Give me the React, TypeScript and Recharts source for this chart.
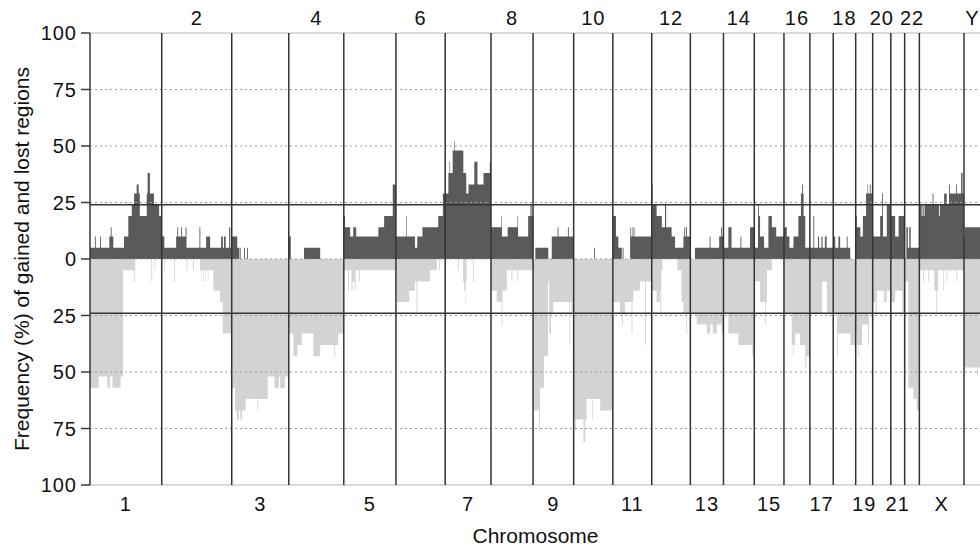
import { Area, ComposedChart, ReferenceLine, XAxis, YAxis } from 'recharts';

const FONT = '"Liberation Sans", Arial, Helvetica, sans-serif';

const chromNames = ['1', '2', '3', '4', '5', '6', '7', '8', '9', '10', '11', '12', '13', '14', '15', '16', '17', '18', '19', '20', '21', '22', 'X', 'Y'];

// chromosome lengths (Mb)
const chromLengthMb = [249, 243, 198, 191, 181, 171, 159, 146, 141, 136, 135, 134, 115, 107, 103, 90, 81, 78, 59, 63, 48, 51, 155, 59];

// per chromosome: [start (Mb from chromosome start), frequency %], each step holds until the next one
const gainSegments: number[][][] = [
  [[0, 5], [17, 10], [20, 5], [35, 10], [38, 5], [67, 10], [72, 14], [75, 10], [81, 5], [118, 10], [133, 19], [145, 24], [153, 29], [162, 33], [169, 29], [173, 19], [197, 29], [200, 38], [208, 29], [222, 24], [240, 19]],
  [[0, 10], [9, 5], [50, 10], [54, 14], [57, 10], [67, 14], [70, 10], [83, 14], [86, 5], [131, 14], [134, 5], [154, 10], [168, 5], [206, 10], [212, 5], [216, 10], [222, 5], [234, 14], [238, 5]],
  [[0, 10], [19, 5], [26, 0], [28, 5], [31, 0], [43, 5], [46, 0], [53, 5], [56, 0]],
  [[0, 10], [7, 0], [53, 5], [109, 0]],
  [[0, 19], [4, 14], [22, 10], [33, 14], [43, 10], [120, 14], [140, 19], [170, 33]],
  [[0, 10], [35, 19], [37, 10], [66, 5], [74, 10], [92, 14], [147, 19], [163, 29]],
  [[0, 29], [11, 38], [15, 43], [17, 38], [26, 48], [32, 52], [34, 48], [63, 38], [73, 29], [81, 33], [101, 43], [112, 33], [133, 38], [155, 43]],
  [[0, 14], [36, 19], [38, 10], [58, 14], [92, 19], [94, 10], [129, 19], [137, 24], [141, 19]],
  [[0, 0], [8, 5], [53, 0], [65, 10], [85, 14], [88, 10], [121, 14], [124, 10]],
  [[0, 0], [71, 5], [74, 0]],
  [[0, 19], [11, 10], [19, 5], [31, 0], [34, 5], [37, 0], [60, 10], [61, 14], [63, 10], [66, 14], [68, 10], [72, 14], [75, 10]],
  [[0, 33], [3, 24], [17, 19], [35, 14], [46, 24], [50, 14], [69, 10], [81, 5], [110, 10], [113, 14], [116, 10], [119, 14], [122, 10]],
  [[0, 0], [16, 5], [67, 10], [70, 5], [100, 10], [107, 14], [110, 10]],
  [[0, 5], [17, 14], [28, 5], [59, 10], [62, 5], [92, 14]],
  [[0, 5], [13, 24], [16, 19], [20, 10], [34, 5], [49, 19], [61, 14], [76, 10]],
  [[0, 14], [10, 10], [19, 5], [33, 10], [50, 19], [59, 29], [63, 33], [66, 29], [68, 19], [74, 5]],
  [[0, 5], [12, 19], [15, 5], [28, 10], [32, 5], [40, 10], [44, 5], [52, 10], [58, 5]],
  [[0, 10], [7, 5], [18, 10], [24, 5], [47, 10], [50, 5], [59, 0]],
  [[0, 19], [4, 14], [16, 10], [25, 19], [36, 29], [41, 33], [43, 29], [49, 33], [52, 29]],
  [[0, 10], [26, 19], [33, 29], [36, 10], [49, 24]],
  [[0, 19], [15, 10], [27, 19]],
  [[0, 0], [6, 14], [11, 5], [16, 14], [21, 5]],
  [[0, 24], [8, 19], [11, 24], [15, 19], [18, 24], [46, 29], [49, 24], [68, 19], [71, 24], [86, 29], [95, 24], [103, 33], [106, 29], [128, 33], [131, 29], [145, 38], [150, 29]],
  [[0, 10], [3, 14]],
];

const lossSegments: number[][][] = [
  [[0, 57], [30, 52], [60, 57], [69, 52], [78, 57], [106, 52], [115, 5], [154, 10], [157, 0], [213, 10], [216, 0], [224, 5], [227, 0]],
  [[0, 0], [9, 5], [11, 0], [43, 10], [46, 0], [86, 5], [89, 0], [109, 5], [112, 0], [133, 5], [138, 10], [140, 5], [145, 10], [147, 5], [152, 10], [154, 5], [160, 10], [162, 5], [179, 14], [202, 19], [212, 33]],
  [[0, 57], [11, 67], [17, 71], [25, 67], [30, 71], [36, 67], [48, 62], [89, 67], [92, 62], [125, 52], [148, 57], [164, 52], [168, 57], [185, 52]],
  [[0, 33], [16, 43], [30, 38], [45, 33], [85, 43], [109, 38], [158, 43], [161, 38], [172, 33]],
  [[0, 5], [15, 14], [18, 5], [27, 14], [30, 10], [38, 14], [41, 5], [53, 10], [56, 5]],
  [[0, 19], [46, 14], [66, 10], [71, 24], [74, 10], [118, 5], [142, 0], [150, 5], [153, 0]],
  [[0, 0], [44, 5], [47, 0], [62, 10], [66, 14], [69, 19], [71, 10], [74, 0], [96, 10], [99, 0]],
  [[0, 14], [20, 19], [37, 29], [40, 14], [55, 5], [71, 10], [74, 5], [92, 10], [95, 5]],
  [[0, 67], [21, 76], [24, 57], [38, 43], [52, 10], [56, 33], [62, 24], [70, 19], [126, 38], [129, 19], [134, 24]],
  [[0, 71], [5, 76], [8, 71], [34, 81], [40, 71], [45, 62], [63, 71], [66, 62], [92, 67]],
  [[0, 19], [25, 24], [32, 29], [35, 24], [42, 19], [65, 33], [68, 19], [71, 14], [94, 10], [112, 38], [115, 10]],
  [[0, 14], [17, 19], [28, 14], [30, 24], [33, 5], [37, 0], [89, 5], [103, 19], [110, 24], [120, 33], [123, 24]],
  [[0, 24], [22, 29], [57, 33], [69, 29], [78, 33], [92, 29], [109, 33]],
  [[0, 24], [17, 33], [52, 38], [100, 43]],
  [[0, 10], [20, 19], [38, 29], [41, 19], [44, 5], [61, 0]],
  [[0, 24], [27, 38], [31, 43], [33, 38], [39, 33], [56, 38], [74, 48], [78, 43]],
  [[0, 24], [42, 10], [59, 24]],
  [[0, 24], [13, 43], [16, 33], [60, 38]],
  [[0, 33], [4, 38], [9, 43], [11, 38], [22, 29], [43, 38], [46, 24]],
  [[0, 19], [10, 24], [14, 14], [40, 19], [48, 14]],
  [[0, 19], [15, 14], [40, 24]],
  [[0, 10], [13, 57], [30, 62], [42, 67]],
  [[0, 5], [13, 10], [16, 5], [31, 10], [34, 5], [52, 14], [59, 24], [62, 14], [65, 5], [83, 14], [86, 5], [94, 10], [97, 5], [129, 10], [132, 5]],
  [[0, 48], [45, 52], [48, 48]],
];

const yTicks = [-100, -75, -50, -25, 0, 25, 50, 75, 100];
const dottedLevels = [-75, -50, -25, 0, 25, 50, 75];
const edgeLevels = [-100, 100];
const thresholdPct = 24;

const chromStarts: number[] = [];
chromLengthMb.forEach((len, i) => {
  chromStarts.push(i === 0 ? 0 : chromStarts[i - 1] + chromLengthMb[i - 1]);
});
const genomeLength = chromStarts[chromStarts.length - 1] + chromLengthMb[chromLengthMb.length - 1];
const chromCenters = chromStarts.map((s, i) => s + chromLengthMb[i] / 2);
const boundaries = chromStarts.slice(1);

const bottomTicks = chromCenters.filter((_, i) => i % 2 === 0);
const topTicks = chromCenters.filter((_, i) => i % 2 === 1);

function nameAt(v: number) {
  const i = chromCenters.findIndex((c) => Math.abs(c - v) < 0.01);
  return i >= 0 ? chromNames[i] : '';
}

function valueAt(segs: number[][], pos: number) {
  let v = 0;
  for (const [s, val] of segs) if (s <= pos) v = val;
  return v;
}

// merge gain and loss steps into one table on the genome axis
const profile: { x: number; gain: number; loss: number }[] = [];
chromNames.forEach((_, i) => {
  const pts = Array.from(
    new Set([0, ...gainSegments[i].map((s) => s[0]), ...lossSegments[i].map((s) => s[0])])
  ).sort((a, b) => a - b);
  pts.forEach((p) => {
    profile.push({
      x: chromStarts[i] + p,
      gain: valueAt(gainSegments[i], p),
      loss: -valueAt(lossSegments[i], p),
    });
  });
});
profile.push({ ...profile[profile.length - 1], x: genomeLength });

const tickStyle = { fontSize: 20, fill: '#111', fontFamily: FONT, letterSpacing: 1 };

export default function App() {
  return (
    <div style={{ position: 'fixed', left: 0, top: 0, width: 980, height: 549, overflow: 'hidden', background: '#fff' }}>
      <ComposedChart
        width={1000}
        height={549}
        data={profile}
        margin={{ top: 0, right: 19, bottom: 6, left: 0 }}
      >
        <XAxis
          xAxisId="bottom"
          type="number"
          dataKey="x"
          domain={[0, genomeLength]}
          ticks={bottomTicks}
          interval={0}
          tickFormatter={nameAt}
          axisLine={false}
          tickLine={false}
          tickSize={8}
          tickMargin={4}
          height={58}
          tick={tickStyle}
          label={{ value: 'Chromosome', position: 'insideBottom', offset: 0, fontSize: 21, fill: '#111', fontFamily: FONT }}
        />
        <XAxis
          xAxisId="top"
          orientation="top"
          type="number"
          dataKey="x"
          domain={[0, genomeLength]}
          ticks={topTicks}
          interval={0}
          tickFormatter={nameAt}
          axisLine={false}
          tickLine={false}
          tickSize={4}
          tickMargin={4}
          height={33}
          tick={tickStyle}
        />
        <YAxis
          type="number"
          domain={[-100, 100]}
          ticks={yTicks}
          interval={0}
          tickFormatter={(v) => String(Math.abs(v))}
          width={90}
          tickSize={9}
          tickMargin={4}
          axisLine={{ stroke: '#3a3a3a', strokeWidth: 1.5 }}
          tickLine={{ stroke: '#3a3a3a', strokeWidth: 1.5 }}
          tick={tickStyle}
          label={{
            value: 'Frequency (%) of gained and lost regions',
            angle: -90,
            position: 'insideLeft',
            offset: 22,
            textAnchor: 'middle',
            fontSize: 21,
            fill: '#111',
            fontFamily: FONT,
          }}
        />
        <Area
          xAxisId="bottom"
          type="stepAfter"
          dataKey="gain"
          baseValue={0}
          stroke="none"
          fill="#5a5a5a"
          fillOpacity={1}
          dot={false}
          activeDot={false}
          isAnimationActive={false}
        />
        <Area
          xAxisId="bottom"
          type="stepAfter"
          dataKey="loss"
          baseValue={0}
          stroke="none"
          fill="#d3d3d3"
          fillOpacity={1}
          dot={false}
          activeDot={false}
          isAnimationActive={false}
        />
        {dottedLevels.map((y) => (
          <ReferenceLine key={`g${y}`} xAxisId="bottom" y={y} stroke="#9a9a9a" strokeDasharray="2 3" strokeWidth={1} />
        ))}
        {edgeLevels.map((y) => (
          <ReferenceLine key={`e${y}`} xAxisId="bottom" y={y} stroke="#cfcfcf" strokeWidth={1.5} />
        ))}
        {boundaries.map((x) => (
          <ReferenceLine key={`b${x}`} xAxisId="bottom" x={x} stroke="#333" strokeWidth={1.5} />
        ))}
        <ReferenceLine xAxisId="bottom" y={thresholdPct} stroke="#333" strokeWidth={1.5} />
        <ReferenceLine xAxisId="bottom" y={-thresholdPct} stroke="#333" strokeWidth={1.5} />
      </ComposedChart>
    </div>
  );
}
